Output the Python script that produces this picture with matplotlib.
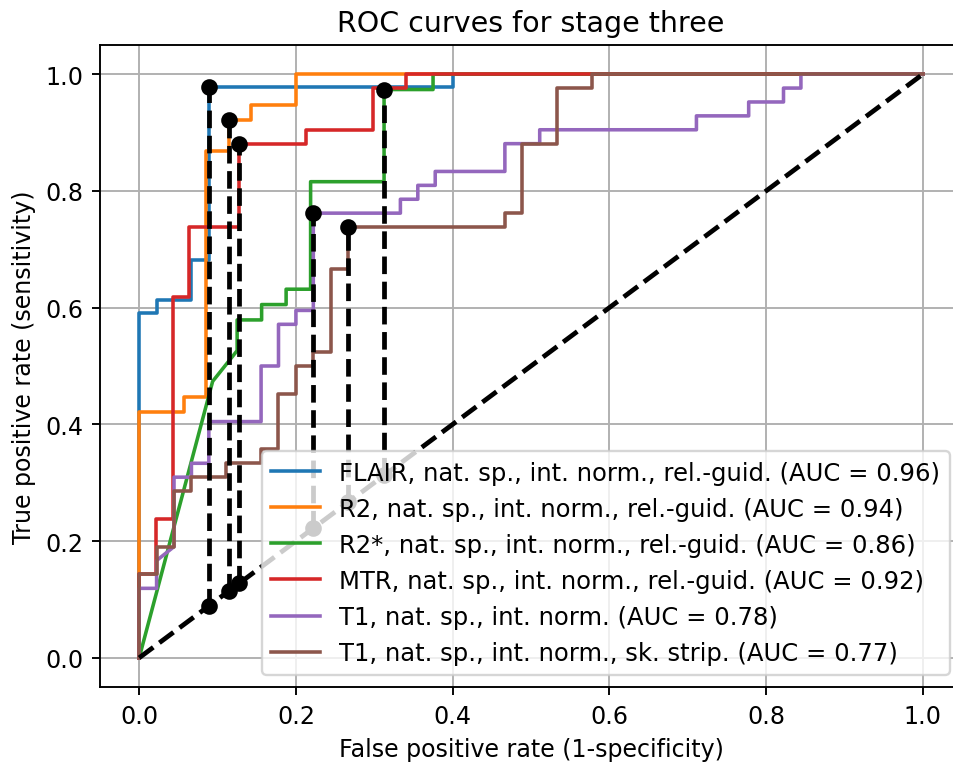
import numpy as np
import matplotlib
matplotlib.use("Agg")
import matplotlib.pyplot as plt

# ROC curve vertices (fpr, tpr)
flair_fpr = np.array([0, 0, 1, 1, 3, 3, 4, 4, 18, 18, 45]) / 45
flair_tpr = np.array([0, 26, 26, 27, 27, 30, 30, 43, 43, 44, 44]) / 44

r2_fpr = np.array([0, 0, 2, 2, 3, 3, 4, 4, 5, 5, 7, 7, 35]) / 35
r2_tpr = np.array([0, 16, 16, 17, 17, 33, 33, 35, 35, 36, 36, 38, 38]) / 38

r2s_fpr = np.array([0, 3, 4, 4, 5, 5, 6, 6, 7, 7, 10, 10, 12, 12, 32]) / 32
r2s_tpr = np.array([0, 18, 20, 22, 22, 23, 23, 24, 24, 31, 31, 37, 37, 38, 38]) / 38

mtr_fpr = np.array([0, 0, 1, 1, 2, 2, 3, 3, 6, 6, 10, 10, 14, 14, 16, 16, 47]) / 47
mtr_tpr = np.array([0, 6, 6, 10, 10, 26, 26, 31, 31, 37, 37, 38, 38, 41, 41, 42, 42]) / 42

t1_fpr = np.array([0, 0, 1, 1, 2, 2, 3, 3, 4, 4, 7, 7, 8, 8, 9, 9, 10, 10, 15, 15,
                   16, 16, 17, 17, 21, 21, 23, 23, 32, 32, 35, 35, 37, 37, 38, 38, 45]) / 45
t1_tpr = np.array([0, 5, 5, 7, 8, 13, 13, 14, 14, 17, 17, 21, 21, 24, 24, 25, 25, 32, 32, 33,
                   33, 34, 34, 35, 35, 37, 37, 38, 38, 39, 39, 40, 40, 41, 41, 42, 42]) / 42

t1sk_fpr = np.array([0, 0, 1, 1, 2, 2, 3, 3, 5, 5, 7, 7, 8, 8, 9, 9, 10, 10, 11, 11,
                     12, 12, 21, 21, 22, 22, 24, 24, 26, 26, 45]) / 45
t1sk_tpr = np.array([0, 6, 6, 8, 8, 12, 12, 13, 13, 14, 14, 15, 15, 19, 19, 21, 21, 22, 22, 28,
                     28, 31, 31, 32, 32, 37, 37, 41, 41, 42, 42]) / 42

labels = [
    "FLAIR, nat. sp., int. norm., rel.-guid. (AUC = 0.96)",
    "R2, nat. sp., int. norm., rel.-guid. (AUC = 0.94)",
    "R2*, nat. sp., int. norm., rel.-guid. (AUC = 0.86)",
    "MTR, nat. sp., int. norm., rel.-guid. (AUC = 0.92)",
    "T1, nat. sp., int. norm. (AUC = 0.78)",
    "T1, nat. sp., int. norm., sk. strip. (AUC = 0.77)",
]

# optimal operating points (fpr, tpr)
opt_fpr = [4 / 45, 4 / 35, 10 / 32, 6 / 47, 10 / 45, 12 / 45]
opt_tpr = [43 / 44, 35 / 38, 37 / 38, 37 / 42, 32 / 42, 31 / 42]

curves = [(flair_fpr, flair_tpr), (r2_fpr, r2_tpr), (r2s_fpr, r2s_tpr),
          (mtr_fpr, mtr_tpr), (t1_fpr, t1_tpr), (t1sk_fpr, t1sk_tpr)]

DPI = 171
fig = plt.figure(figsize=(953 / DPI, 767 / DPI), dpi=DPI)
# axes runs slightly past the right edge of the picture, as in the original crop
ax = fig.add_axes([100 / 953, 79 / 767, 862 / 953, 642 / 767])
ax.spines['right'].set_visible(False)

for (fpr, tpr), lab in zip(curves, labels):
    ax.plot(fpr, tpr, label=lab)

ax.plot([0, 1], [0, 1], 'k--', lw=2)
for fx, fy in zip(opt_fpr, opt_tpr):
    ax.plot([fx, fx], [fx, fy], 'ko--', lw=2)

ax.set_xlim(-0.05, 1.05)
ax.set_ylim(-0.05, 1.05)
ax.set_xlabel('False positive rate (1-specificity)')
ax.set_ylabel('True positive rate (sensitivity)')
ax.set_title('ROC curves for stage three')
ax.grid(True)
ax.legend(loc='lower right', fontsize=10.2)

fig.savefig('out.png', dpi=DPI)
